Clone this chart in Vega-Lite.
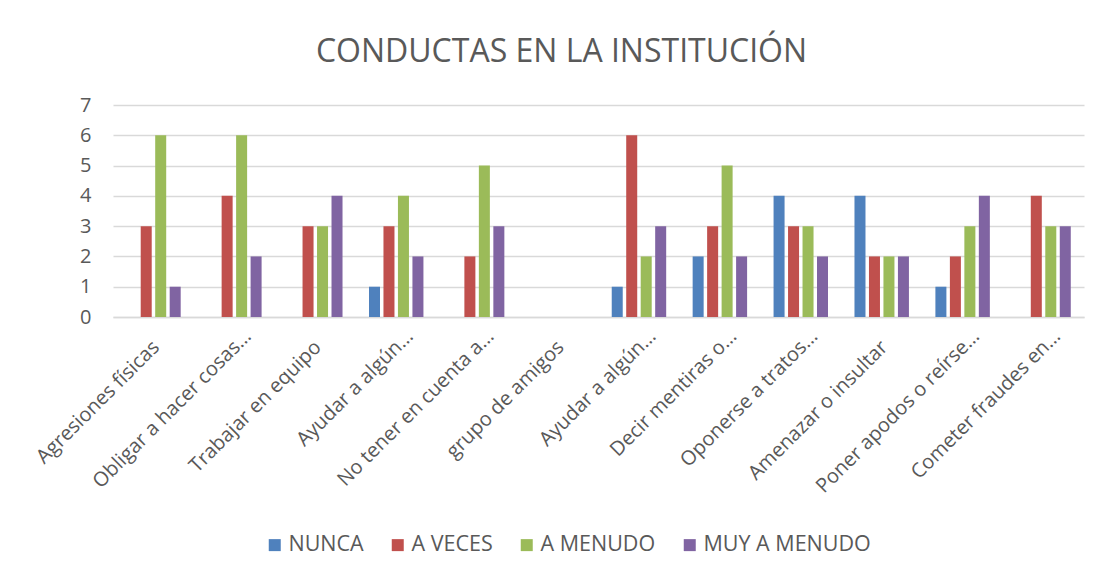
{
  "$schema": "https://vega.github.io/schema/vega-lite/v6.json",
  "autosize": "none",
  "width": 971,
  "height": 212,
  "padding": {"left": 113, "top": 105, "right": 20, "bottom": 261},
  "background": "white",
  "title": {
    "text": "CONDUCTAS EN LA INSTITUCIÓN",
    "font": "Open Sans",
    "fontSize": 32,
    "fontWeight": "normal",
    "color": "#595959",
    "anchor": "middle",
    "dx": -37,
    "offset": 26
  },
  "data": {
    "values": [
      {"conducta": "Agresiones físicas", "frecuencia": "NUNCA", "valor": 0},
      {"conducta": "Agresiones físicas", "frecuencia": "A VECES", "valor": 3},
      {"conducta": "Agresiones físicas", "frecuencia": "A MENUDO", "valor": 6},
      {"conducta": "Agresiones físicas", "frecuencia": "MUY A MENUDO", "valor": 1},
      {"conducta": "Obligar a hacer cosas…", "frecuencia": "NUNCA", "valor": 0},
      {"conducta": "Obligar a hacer cosas…", "frecuencia": "A VECES", "valor": 4},
      {"conducta": "Obligar a hacer cosas…", "frecuencia": "A MENUDO", "valor": 6},
      {"conducta": "Obligar a hacer cosas…", "frecuencia": "MUY A MENUDO", "valor": 2},
      {"conducta": "Trabajar en equipo", "frecuencia": "NUNCA", "valor": 0},
      {"conducta": "Trabajar en equipo", "frecuencia": "A VECES", "valor": 3},
      {"conducta": "Trabajar en equipo", "frecuencia": "A MENUDO", "valor": 3},
      {"conducta": "Trabajar en equipo", "frecuencia": "MUY A MENUDO", "valor": 4},
      {"conducta": "Ayudar a algún…", "frecuencia": "NUNCA", "valor": 1},
      {"conducta": "Ayudar a algún…", "frecuencia": "A VECES", "valor": 3},
      {"conducta": "Ayudar a algún…", "frecuencia": "A MENUDO", "valor": 4},
      {"conducta": "Ayudar a algún…", "frecuencia": "MUY A MENUDO", "valor": 2},
      {"conducta": "No tener en cuenta a…", "frecuencia": "NUNCA", "valor": 0},
      {"conducta": "No tener en cuenta a…", "frecuencia": "A VECES", "valor": 2},
      {"conducta": "No tener en cuenta a…", "frecuencia": "A MENUDO", "valor": 5},
      {"conducta": "No tener en cuenta a…", "frecuencia": "MUY A MENUDO", "valor": 3},
      {"conducta": "grupo de amigos", "frecuencia": "NUNCA", "valor": 0},
      {"conducta": "grupo de amigos", "frecuencia": "A VECES", "valor": 0},
      {"conducta": "grupo de amigos", "frecuencia": "A MENUDO", "valor": 0},
      {"conducta": "grupo de amigos", "frecuencia": "MUY A MENUDO", "valor": 0},
      {"conducta": "Ayudar a algún… ", "frecuencia": "NUNCA", "valor": 1},
      {"conducta": "Ayudar a algún… ", "frecuencia": "A VECES", "valor": 6},
      {"conducta": "Ayudar a algún… ", "frecuencia": "A MENUDO", "valor": 2},
      {"conducta": "Ayudar a algún… ", "frecuencia": "MUY A MENUDO", "valor": 3},
      {"conducta": "Decir mentiras o…", "frecuencia": "NUNCA", "valor": 2},
      {"conducta": "Decir mentiras o…", "frecuencia": "A VECES", "valor": 3},
      {"conducta": "Decir mentiras o…", "frecuencia": "A MENUDO", "valor": 5},
      {"conducta": "Decir mentiras o…", "frecuencia": "MUY A MENUDO", "valor": 2},
      {"conducta": "Oponerse a tratos…", "frecuencia": "NUNCA", "valor": 4},
      {"conducta": "Oponerse a tratos…", "frecuencia": "A VECES", "valor": 3},
      {"conducta": "Oponerse a tratos…", "frecuencia": "A MENUDO", "valor": 3},
      {"conducta": "Oponerse a tratos…", "frecuencia": "MUY A MENUDO", "valor": 2},
      {"conducta": "Amenazar o insultar", "frecuencia": "NUNCA", "valor": 4},
      {"conducta": "Amenazar o insultar", "frecuencia": "A VECES", "valor": 2},
      {"conducta": "Amenazar o insultar", "frecuencia": "A MENUDO", "valor": 2},
      {"conducta": "Amenazar o insultar", "frecuencia": "MUY A MENUDO", "valor": 2},
      {"conducta": "Poner apodos o reírse…", "frecuencia": "NUNCA", "valor": 1},
      {"conducta": "Poner apodos o reírse…", "frecuencia": "A VECES", "valor": 2},
      {"conducta": "Poner apodos o reírse…", "frecuencia": "A MENUDO", "valor": 3},
      {"conducta": "Poner apodos o reírse…", "frecuencia": "MUY A MENUDO", "valor": 4},
      {"conducta": "Cometer fraudes en…", "frecuencia": "NUNCA", "valor": 0},
      {"conducta": "Cometer fraudes en…", "frecuencia": "A VECES", "valor": 4},
      {"conducta": "Cometer fraudes en…", "frecuencia": "A MENUDO", "valor": 3},
      {"conducta": "Cometer fraudes en…", "frecuencia": "MUY A MENUDO", "valor": 3}
    ]
  },
  "mark": {"type": "bar"},
  "encoding": {
    "x": {
      "field": "conducta",
      "type": "nominal",
      "sort": null,
      "scale": {"paddingInner": 0.327, "paddingOuter": 0.1635},
      "axis": {
        "title": null,
        "labelAngle": -45,
        "labelAlign": "right",
        "labelBaseline": "alphabetic",
        "labelPadding": {"condition": {"test": "indexof(datum.value, '…') >= 0", "value": 20}, "value": 31},
        "labelOffset": {"condition": {"test": "indexof(datum.value, '…') >= 0", "value": 18}, "value": 7},
        "labelFont": "Open Sans",
        "labelFontSize": 20,
        "labelColor": "#595959",
        "labelLimit": 300,
        "labelOverlap": false,
        "ticks": false,
        "domain": true,
        "domainColor": "#d9d9d9",
        "domainWidth": 1.5,
        "grid": false
      }
    },
    "xOffset": {
      "field": "frecuencia",
      "type": "nominal",
      "sort": ["NUNCA", "A VECES", "A MENUDO", "MUY A MENUDO"],
      "scale": {"paddingInner": 0.24, "paddingOuter": 0}
    },
    "y": {
      "field": "valor",
      "type": "quantitative",
      "scale": {"domain": [0, 7]},
      "axis": {
        "title": null,
        "values": [0, 1, 2, 3, 4, 5, 6, 7],
        "labelFont": "Open Sans",
        "labelFontSize": 20,
        "labelColor": "#595959",
        "labelPadding": 22,
        "ticks": false,
        "domain": false,
        "grid": true,
        "gridColor": "#d9d9d9",
        "gridWidth": 1.5
      }
    },
    "color": {
      "field": "frecuencia",
      "type": "nominal",
      "sort": ["NUNCA", "A VECES", "A MENUDO", "MUY A MENUDO"],
      "scale": {
        "domain": ["NUNCA", "A VECES", "A MENUDO", "MUY A MENUDO"],
        "range": ["#4f81bd", "#c0504d", "#9bbb59", "#8064a2"]
      },
      "legend": {
        "title": null,
        "orient": "none",
        "direction": "horizontal",
        "legendX": 151,
        "legendY": 429,
        "symbolType": "square",
        "symbolSize": 144,
        "symbolStrokeWidth": 0,
        "labelFont": "Open Sans",
        "labelFontSize": 21.5,
        "labelColor": "#595959",
        "labelOffset": 3,
        "labelLimit": 400,
        "columnPadding": 23
      }
    }
  },
  "config": {
    "view": {"stroke": null}
  }
}
